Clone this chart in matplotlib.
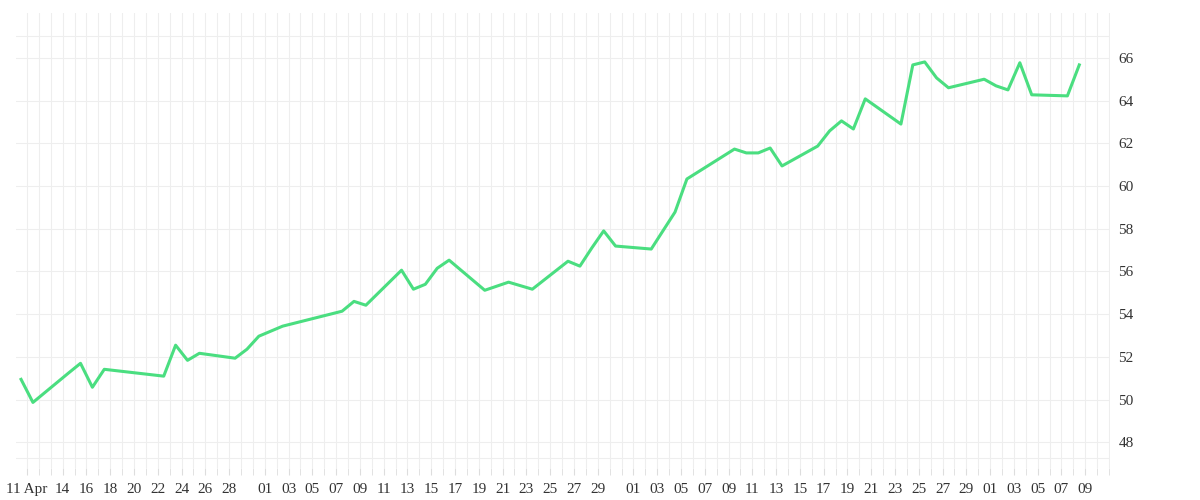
import datetime as dt
import matplotlib
matplotlib.use("Agg")
import matplotlib.pyplot as plt
import matplotlib.dates as mdates

start = dt.datetime(2024, 4, 10, 12)
day_idx = [0, 1, 4, 5, 6, 7, 12, 13, 14, 15, 18, 19, 20, 22, 27, 28, 29, 32, 33, 34,
           35, 36, 39, 41, 43, 46, 47, 48, 49, 50, 53, 55, 56, 60, 61, 62, 63, 64,
           67, 68, 69, 70, 71, 74, 75, 76, 77, 78, 81, 82, 83, 84, 85, 88, 89]
values = [50.95, 49.87, 51.25, 51.7, 50.58, 51.42, 51.1, 52.55, 51.84, 52.17, 51.94,
          52.36, 52.97, 53.44, 54.14, 54.6, 54.42, 56.06, 55.17, 55.4, 56.15, 56.53,
          55.12, 55.5, 55.17, 56.48, 56.25, 57.1, 57.9, 57.19, 57.05, 58.78, 60.33,
          61.73, 61.55, 61.55, 61.78, 60.94, 61.87, 62.58, 63.05, 62.67, 64.08, 62.9,
          65.67, 65.81, 65.06, 64.6, 65.0, 64.69, 64.5, 65.77, 64.27, 64.22, 65.67]
tick_dates = ["2024-04-11", "2024-04-14", "2024-04-16", "2024-04-18", "2024-04-20",
              "2024-04-22", "2024-04-24", "2024-04-26", "2024-04-28", "2024-05-01",
              "2024-05-03", "2024-05-05", "2024-05-07", "2024-05-09", "2024-05-11",
              "2024-05-13", "2024-05-15", "2024-05-17", "2024-05-19", "2024-05-21",
              "2024-05-23", "2024-05-25", "2024-05-27", "2024-05-29", "2024-06-01",
              "2024-06-03", "2024-06-05", "2024-06-07", "2024-06-09", "2024-06-11",
              "2024-06-13", "2024-06-15", "2024-06-17", "2024-06-19", "2024-06-21",
              "2024-06-23", "2024-06-25", "2024-06-27", "2024-06-29", "2024-07-01",
              "2024-07-03", "2024-07-05", "2024-07-07", "2024-07-09"]
y_ticks = [48, 50, 52, 54, 56, 58, 60, 62, 64, 66]

x = [start + dt.timedelta(days=d) for d in day_idx]
ticks = [dt.datetime.strptime(s, "%Y-%m-%d") for s in tick_dates]
labels = [t.strftime("%d") for t in ticks]
labels[0] = "11 Apr"

fig = plt.figure(figsize=(12, 5), dpi=100)
ax = fig.add_axes([0.013, 0.064, 0.912, 0.91])
ax.plot(x, values, color="#4ade80", lw=2.2, zorder=3)

ax.set_xlim(dt.datetime(2024, 4, 10, 1), dt.datetime(2024, 7, 11, 2))
ax.set_ylim(46.8, 68.1)
ax.set_xticks(ticks)
ax.set_xticklabels(labels, fontfamily="Liberation Serif", fontsize=11, color="#333333")
ax.xaxis.set_minor_locator(mdates.DayLocator())
ax.set_yticks(y_ticks)
ax.set_yticks([47.25, 67], minor=True)
ax.yaxis.tick_right()
for t in ax.get_yticklabels():
    t.set_fontfamily("Liberation Serif")
ax.tick_params(axis="y", which="both", length=0, labelsize=11, labelcolor="#333333", pad=6)
ax.tick_params(axis="x", which="both", length=5, color="#dddddd", pad=6)
ax.grid(True, which="both", color="#eeeeee", lw=0.8, zorder=0)
for s in ax.spines.values():
    s.set_visible(False)

fig.savefig("out.png")
